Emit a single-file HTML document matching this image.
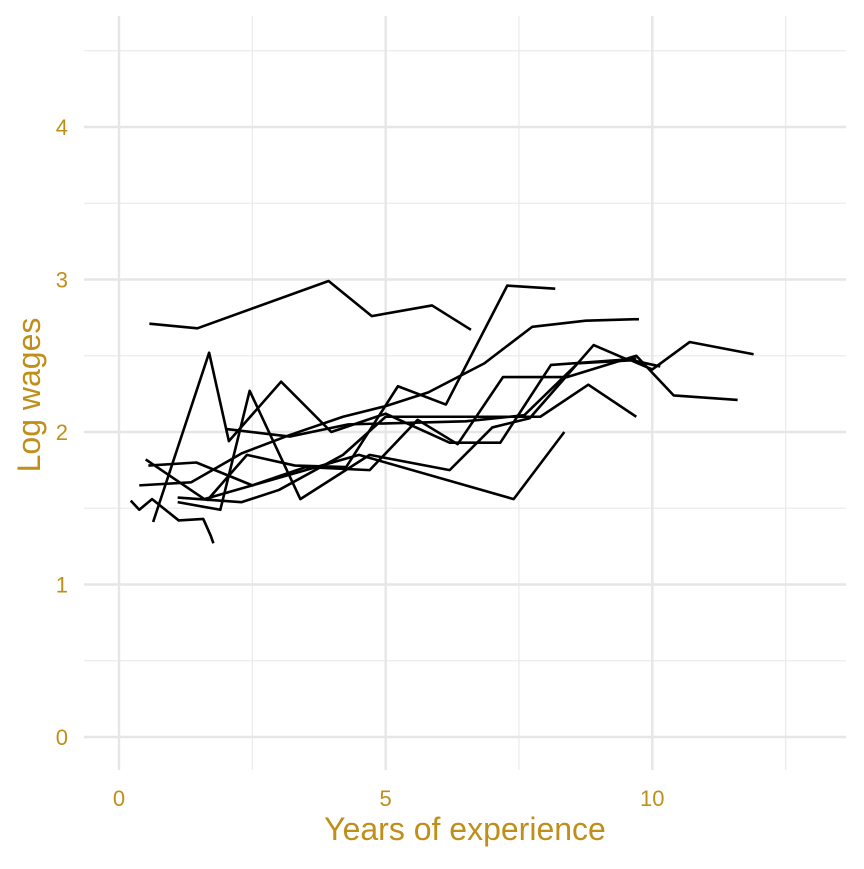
<!DOCTYPE html>
<html><head><meta charset="utf-8"><style>
body{margin:0;background:#fff}
svg text{font-family:"Liberation Sans",sans-serif;fill:#BF8F1A}
</style></head><body>
<svg id="chart" width="864" height="864" xmlns="http://www.w3.org/2000/svg">
<g id="grid"></g>
<g id="lines"></g>
<g id="axes"></g>
<text x="465" y="840" font-size="32" text-anchor="middle">Years of experience</text>
<text x="40" y="395" font-size="32" text-anchor="middle" transform="rotate(-90 40 395)">Log wages</text>
</svg>
<script>
const xTicks=[0,5,10];
const yTicks=[0,1,2,3,4];
const xMinor=[2.5,7.5,12.5];
const yMinor=[0.5,1.5,2.5,3.5,4.5];
const s1=[[0.57,2.71],[1.47,2.68],[3.93,2.99],[4.74,2.76],[5.87,2.83],[6.6,2.67]];
const s2=[[0.64,1.41],[1.69,2.52],[2.06,1.94],[3.04,2.33],[3.98,2.0],[5.0,2.12],[6.2,1.93],[7.15,1.93],[8.1,2.44],[9.7,2.48]];
const s3=[[1.65,1.55],[2.4,1.85],[3.3,1.78],[4.26,1.77],[5.23,2.3],[6.13,2.18],[7.28,2.96],[8.18,2.94]];
const s4=[[0.38,1.65],[1.35,1.67],[2.3,1.86],[3.2,1.98],[4.2,2.1],[5.0,2.17],[5.8,2.26],[6.85,2.45],[7.75,2.69],[8.75,2.73],[9.75,2.74]];
const s5=[[0.22,1.55],[0.38,1.49],[0.62,1.56],[1.12,1.42],[1.58,1.43],[1.72,1.32],[1.77,1.27]];
const s6=[[0.5,1.82],[1.6,1.56],[2.4,1.64],[4.5,1.85],[7.4,1.56],[8.35,2.0]];
const s7=[[0.55,1.78],[1.45,1.8],[2.5,1.65],[3.5,1.77],[4.7,1.75],[5.6,2.08],[6.35,1.92],[7.2,2.36],[8.4,2.36],[9.7,2.5],[10.4,2.24],[11.6,2.21]];
const s8=[[1.1,1.54],[1.9,1.49],[2.45,2.27],[3.4,1.56],[4.7,1.85],[6.2,1.75],[7.0,2.03],[7.7,2.09],[8.9,2.57],[9.5,2.48],[10.15,2.43]];
const s9=[[1.1,1.57],[2.3,1.54],[3.0,1.62],[4.2,1.85],[5.0,2.1],[7.9,2.1],[8.8,2.31],[9.7,2.1]];
const s10=[[2.0,2.02],[3.2,1.97],[4.3,2.05],[6.5,2.07],[7.6,2.11],[8.6,2.45],[9.6,2.47],[10.0,2.41],[10.7,2.59],[11.9,2.51]];
const series=[s1,s2,s3,s4,s5,s6,s7,s8,s9,s10];
const L=84,R=846,T=16,B=770;
const X=v=>119+v*53.33, Y=v=>737-v*152.5;
const NS="http://www.w3.org/2000/svg";
function mk(t,a,p){const e=document.createElementNS(NS,t);for(const k in a)e.setAttribute(k,a[k]);p.appendChild(e);return e;}
const g=document.getElementById('grid');
xMinor.forEach(v=>{const e=mk('line',{x1:X(v),x2:X(v),y1:T,y2:B,stroke:'#ebebeb','stroke-width':1.2},g);

});
yMinor.forEach(v=>{const e=mk('line',{x1:L,x2:R,y1:Y(v),y2:Y(v),stroke:'#ebebeb','stroke-width':1.2},g);

});
xTicks.forEach(v=>{const e=mk('line',{x1:X(v),x2:X(v),y1:T,y2:B,stroke:'#e6e6e6','stroke-width':2.4},g);

});
yTicks.forEach(v=>{const e=mk('line',{x1:L,x2:R,y1:Y(v),y2:Y(v),stroke:'#e6e6e6','stroke-width':2.4},g);

});
const a=document.getElementById('axes');
xTicks.forEach(v=>{const t=mk('text',{x:X(v),y:806,'font-size':22,'text-anchor':'middle'},a);t.textContent=v;

});
yTicks.forEach(v=>{const t=mk('text',{x:68,y:Y(v)+8,'font-size':22,'text-anchor':'end'},a);t.textContent=v;

});
const lg=document.getElementById('lines');
series.forEach((s,i)=>{const p=mk('polyline',{points:s.map(d=>X(d[0])+','+Y(d[1])).join(' '),fill:'none',stroke:'#000','stroke-width':2.6,'stroke-linejoin':'round'},lg);

});
</script>
</body></html>
